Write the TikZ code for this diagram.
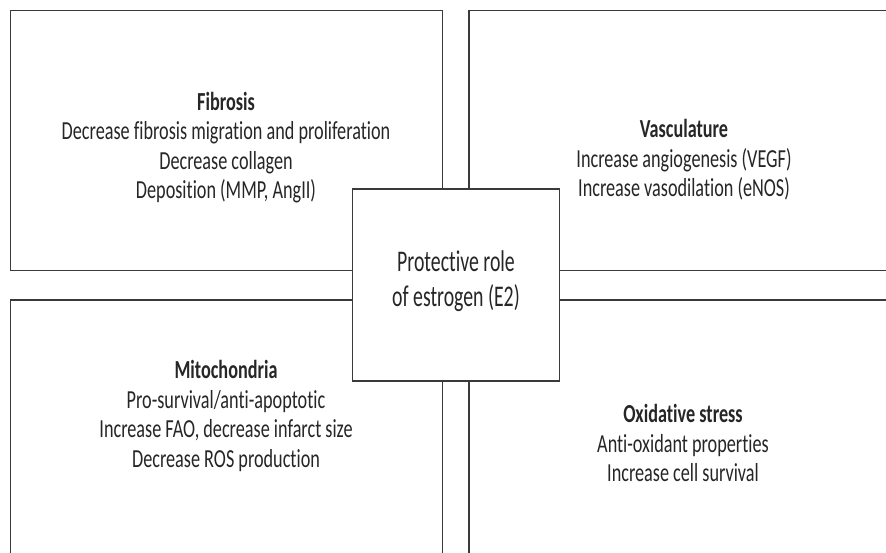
\documentclass[tikz,border=0pt]{standalone}
\usepackage{fontspec}
\setmainfont[FakeStretch=0.70,Ligatures=NoCommon]{Carlito}
\newfontfamily\centfont[FakeStretch=0.66,Ligatures=NoCommon]{Carlito}
\definecolor{edge}{HTML}{3A3A3A}
\definecolor{ink}{HTML}{262626}
\begin{document}
\begin{tikzpicture}[x=1pt,y=1pt,
  frame/.style={draw=edge,line width=1.8pt},
  txt/.style={align=center,text=ink,font=\fontsize{26}{29.5}\selectfont,inner sep=0pt},
  ctxt/.style={align=center,text=ink,font=\centfont\fontsize{30}{35}\selectfont,inner sep=0pt},
]
\useasboundingbox (0,0) rectangle (886,553);
\fill[white] (0,0) rectangle (886,553);
% four panels
\draw[frame] (10.5,282.5) rectangle (442.5,542.5);
\draw[frame] (890,542.5) -- (469,542.5) -- (469,282.5) -- (890,282.5);
\draw[frame] (10.5,-3) -- (10.5,253) -- (442.5,253) -- (442.5,-3);
\draw[frame] (469,-3) -- (469,253) -- (890,253);
% centre box
\node[frame,fill=white,minimum width=207pt,minimum height=192pt,inner sep=0pt] (centre) at (456,268) {};
\node[ctxt] (ctext) at (456,271.5) {Protective role\\of estrogen (E2)};
% texts
\node[txt] (fib) at (226,405.5) {\textbf{Fibrosis}\\Decrease fibrosis migration and proliferation\\Decrease collagen\\Deposition (MMP, AngII)};
\node[txt] (vas) at (684,393) {\textbf{Vasculature}\\Increase angiogenesis (VEGF)\\Increase vasodilation (eNOS)};
\node[txt] (mito) at (226,137) {\textbf{Mitochondria}\\Pro-survival/anti-apoptotic\\Increase FAO, decrease infarct size\\Decrease ROS production};
\node[txt] (oxi) at (683,110) {\textbf{Oxidative stress}\\Anti-oxidant properties\\Increase cell survival};
\end{tikzpicture}
\end{document}
